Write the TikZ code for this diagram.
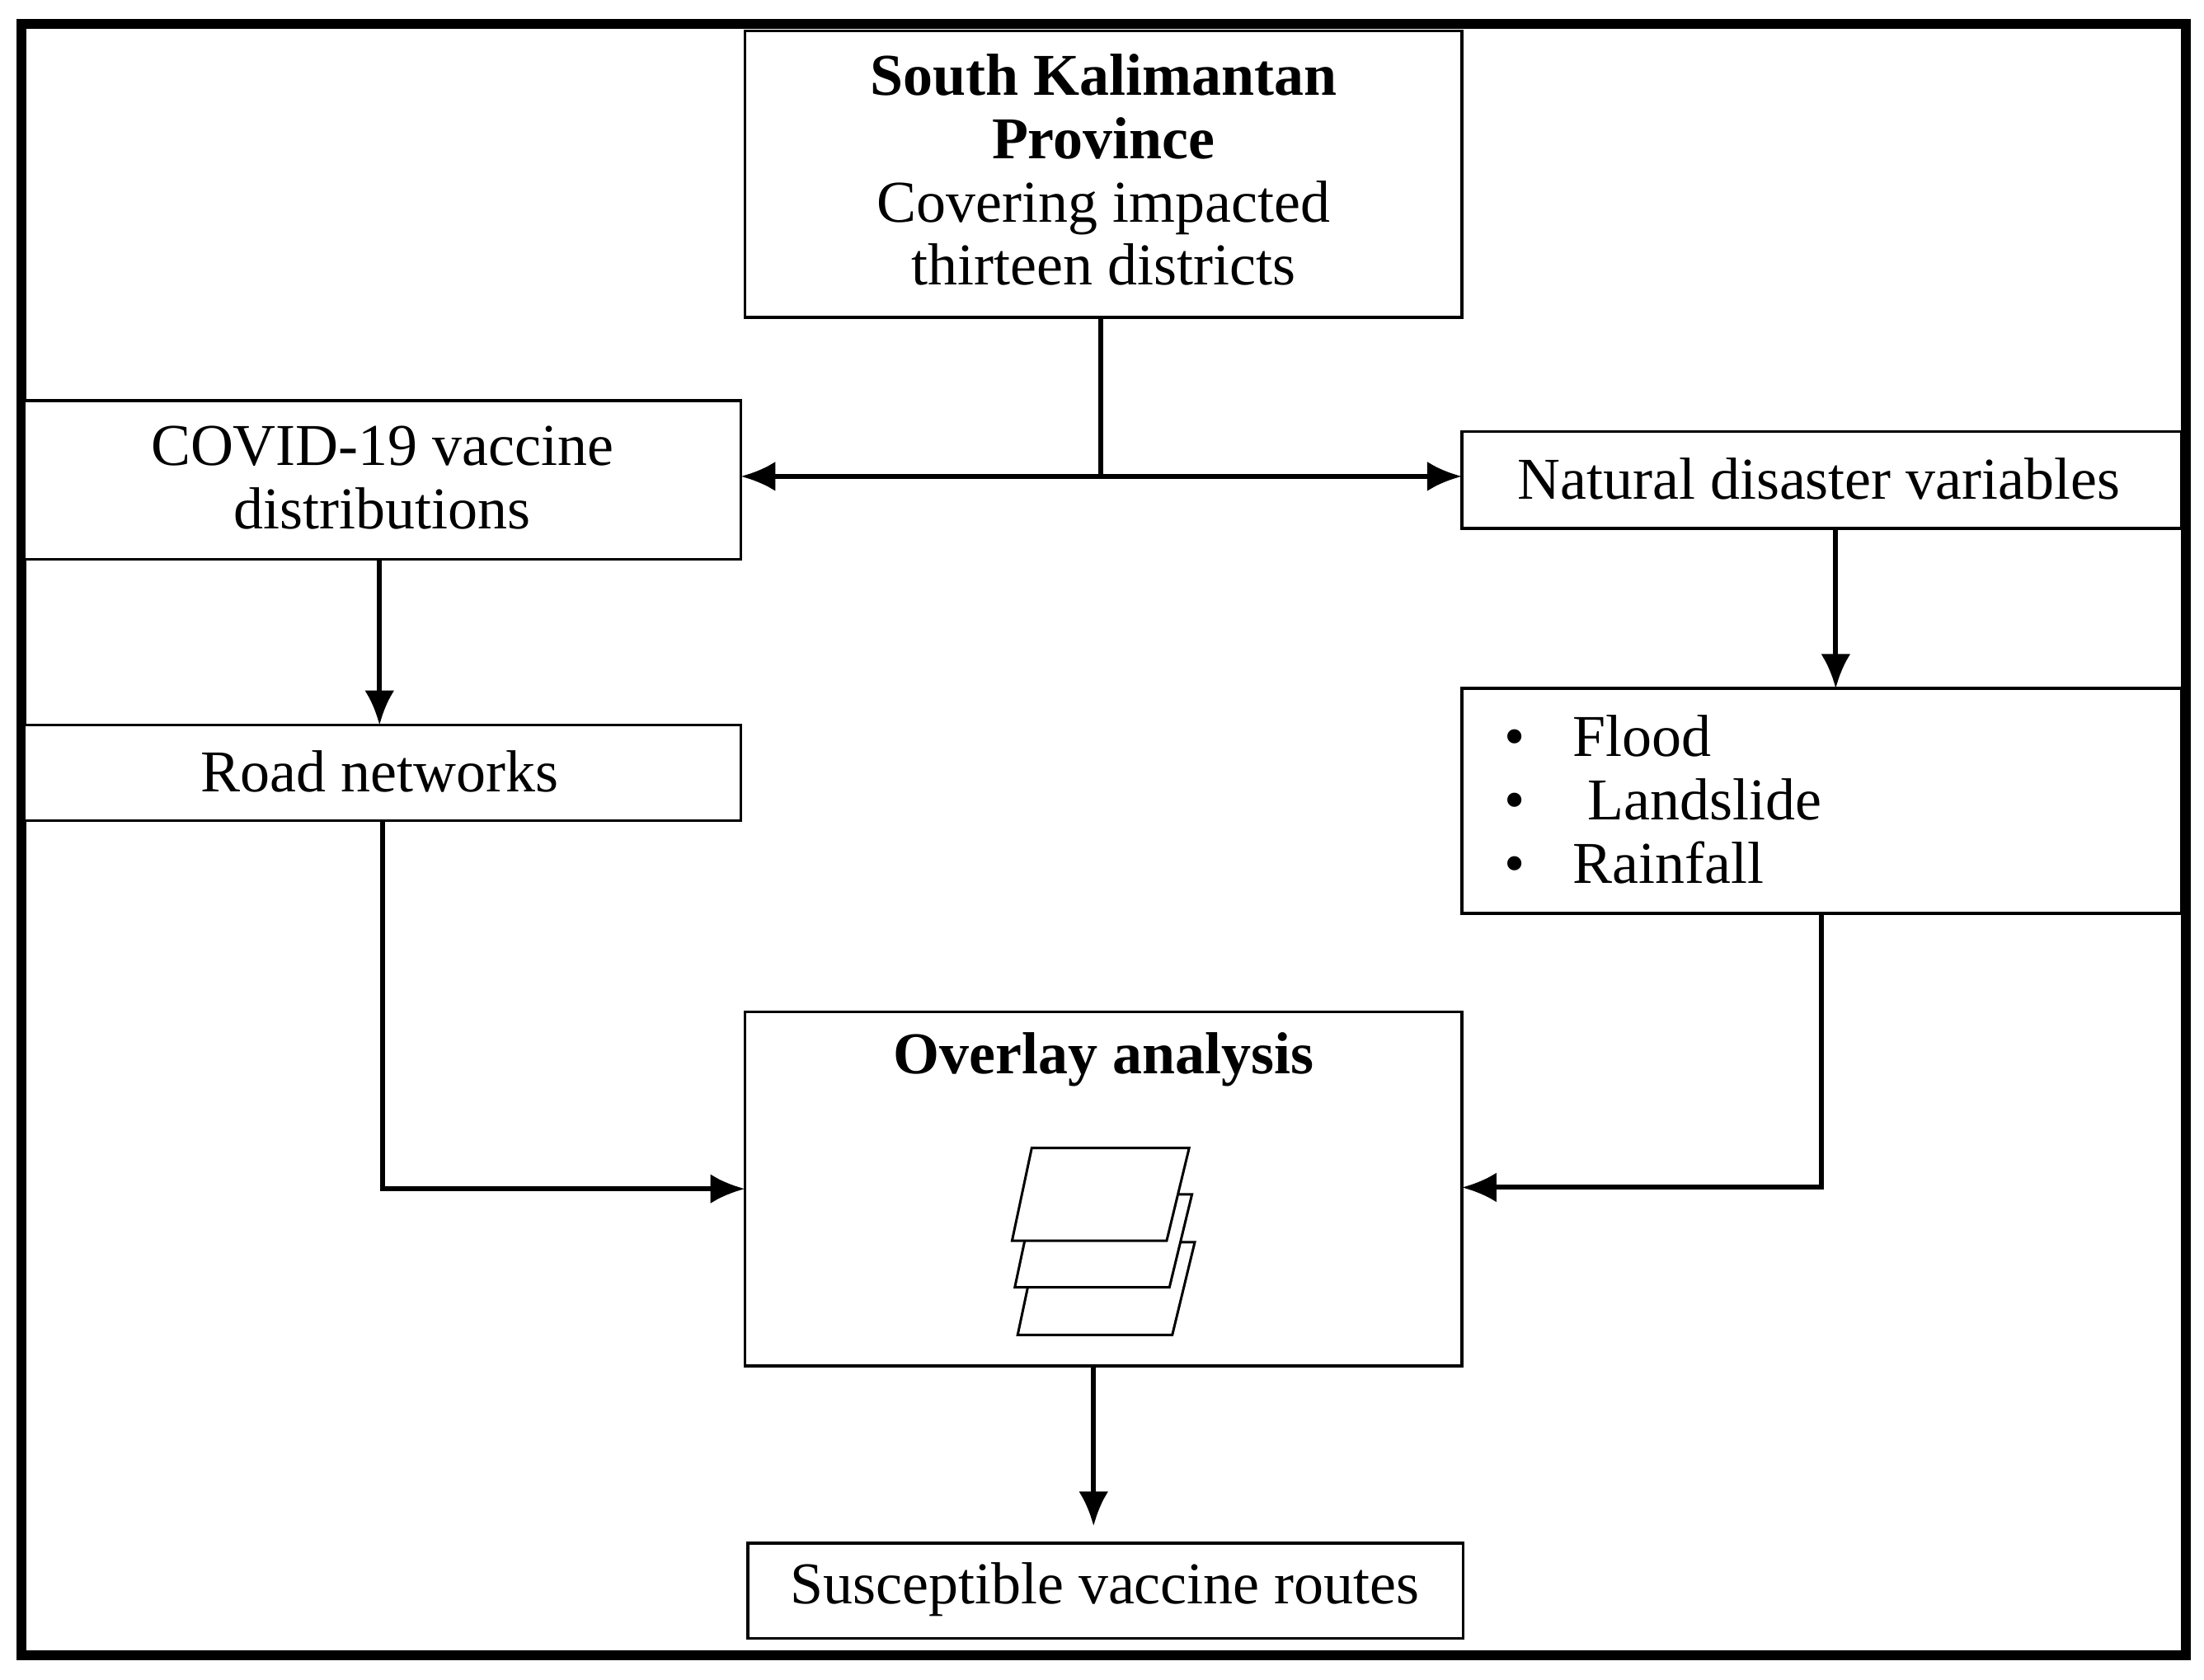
\documentclass[tikz,border=0pt]{standalone}
\usepackage{fontspec}
\setmainfont{Liberation Serif}
\usetikzlibrary{arrows.meta}
\begin{document}
\begin{tikzpicture}[x=0.01cm,y=-0.01cm,
  box/.style={draw,line width=0.6pt,fill=white},
  txt/.style={align=center,font=\fontsize{12}{12.8}\selectfont},
  arr/.style={line width=1pt,-{Latex[length=7pt,width=6pt]}},
  ln/.style={line width=1pt},
  lay/.style={draw,line width=0.5pt,fill=white}]
\useasboundingbox (0,0) rectangle (1568,1195);
\draw[line width=2pt] (15,17) rectangle (1555,1178);
\draw[box] (530,22) rectangle (1040,226);
\node[txt] (top) at (785,121) {\textbf{South Kalimantan}\\\textbf{Province}\\Covering impacted\\thirteen districts};
\draw[box] (17,285) rectangle (527,398);
\node[txt] (cov) at (272,340) {COVID-19 vaccine\\distributions};
\draw[box] (1040,307) rectangle (1552,376);
\node[txt] (nat) at (1294,341) {Natural disaster variables};
\draw[box] (17,516) rectangle (527,584);
\node[txt] (road) at (270,549) {Road networks};
\draw[box] (1040,490) rectangle (1552,650);
\node[txt,align=left,anchor=west] (bul) at (1058,569) {\textbullet\hspace{0.8em}Flood\\\textbullet\hspace{1.05em}Landslide\\\textbullet\hspace{0.8em}Rainfall};
\draw[box] (530,720) rectangle (1040,972);
\node[txt] (ov) at (785,754) {\textbf{Overlay analysis}};
\draw[box] (532,1098) rectangle (1041,1166);
\node[txt] (sus) at (786,1131) {Susceptible vaccine routes};
% layers
\draw[lay] (724,950) -- (738,884) -- (850,884) -- (834,950) -- cycle;
\draw[lay] (722,916) -- (736,850) -- (848,850) -- (832,916) -- cycle;
\draw[lay] (720,883) -- (734,817) -- (846,817) -- (830,883) -- cycle;
% connectors
\coordinate (j) at (783,339);
\draw[ln] (783,226) -- (j);
\draw[arr] (j) -- (527,339);
\draw[arr] (j) -- (1040,339);
\draw[arr] (270,398) -- (270,516);
\draw[arr] (1306,376) -- (1306,490);
\draw[arr] (272,584) -- (272,846) -- (530,846);
\draw[arr] (1296,650) -- (1296,845) -- (1040,845);
\draw[arr] (778,972) -- (778,1086);
\end{tikzpicture}
\end{document}
